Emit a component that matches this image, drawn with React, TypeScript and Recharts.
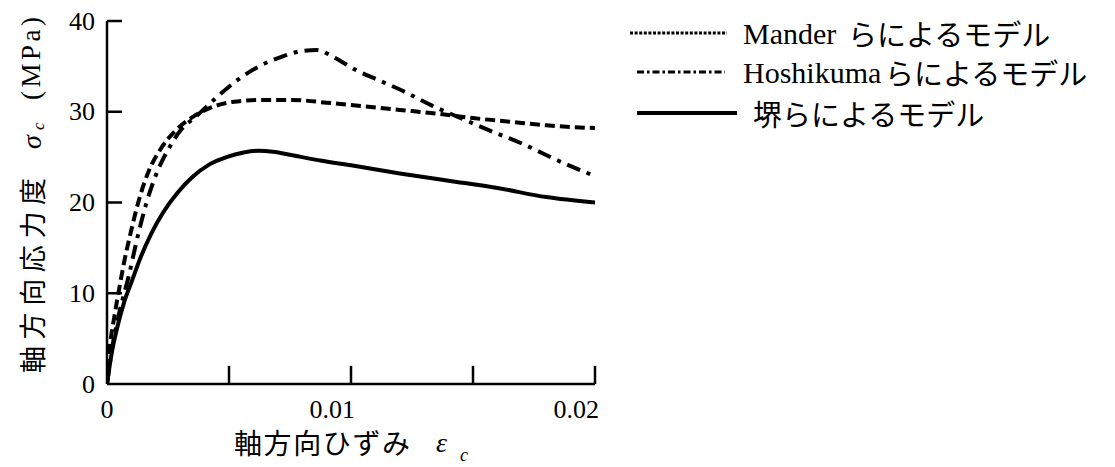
import React from 'react';
import { LineChart, Line, XAxis, YAxis, ReferenceLine, Legend, Label } from 'recharts';

// strain (x) and stress in MPa (y)
const manderStrain = [0, 0.0001, 0.0003, 0.0005, 0.0007, 0.001, 0.0013, 0.0017, 0.0022, 0.0028, 0.0035, 0.0043, 0.0052, 0.0063, 0.0076, 0.009, 0.0105, 0.012, 0.0135, 0.015, 0.0165, 0.018, 0.02];
const manderStress = [0, 3.6, 7.4, 10.5, 13.4, 17.0, 20.2, 23.4, 25.9, 27.9, 29.4, 30.5, 31.1, 31.3, 31.3, 31.0, 30.6, 30.2, 29.8, 29.3, 28.9, 28.5, 28.2];

const hoshikumaStrain = [0, 0.0002, 0.0005, 0.0009, 0.0012, 0.0016, 0.002, 0.0025, 0.003, 0.0037, 0.0045, 0.0054, 0.0063, 0.0072, 0.008, 0.0086, 0.0093, 0.0102, 0.0112, 0.0122, 0.0133, 0.0145, 0.0158, 0.017, 0.0185, 0.02];
const hoshikumaStress = [0, 3.8, 7.8, 12.0, 15.6, 19.8, 23.0, 25.8, 27.9, 29.6, 31.6, 33.6, 35.1, 36.1, 36.7, 36.8, 36.0, 34.6, 33.4, 32.2, 30.7, 29.3, 27.8, 26.5, 24.6, 22.9];

const sakaiStrain = [0, 0.0002, 0.0004, 0.0007, 0.001, 0.0014, 0.0018, 0.0023, 0.0029, 0.0035, 0.0042, 0.0049, 0.0056, 0.0062, 0.0068, 0.0076, 0.0088, 0.01, 0.012, 0.014, 0.016, 0.018, 0.02];
const sakaiStress = [0, 3.5, 6.0, 9.0, 11.2, 14.1, 16.5, 18.9, 21.1, 22.8, 24.2, 25.0, 25.5, 25.7, 25.6, 25.2, 24.6, 24.1, 23.2, 22.4, 21.6, 20.6, 20.0];

const yTicks = [0, 10, 20, 30, 40];
const xTickLabels = [0, 0.01, 0.02];
const xTickMarks = [0.005, 0.01, 0.015, 0.02];

const legendLatin = ['Mander', 'Hoshikuma', ''];
const legendJapanese = ['らによるモデル', 'らによるモデル', '堺らによるモデル'];

const toPoints = (xs: number[], ys: number[]) => xs.map((x, i) => ({ x, y: ys[i] }));

const SERIF = '"Liberation Serif", "Times New Roman", serif';
const JP = '"Noto Sans CJK JP", sans-serif';

// label sits 12px left of the axis; inward tick mark drawn from the axis
const YTick = ({ x, y, payload }: any) => (
  <g>
    {payload.value > 0 ? <line x1={x + 12} x2={x + 27} y1={y} y2={y} stroke="#000" strokeWidth={2.5} /> : null}
    <text x={x} y={y} textAnchor="end" dominantBaseline="central" fontFamily={SERIF} fontSize={26} fill="#000">
      {payload.value}
    </text>
  </g>
);

const XTick = ({ x, y, payload }: any) => {
  const first = payload.value === 0;
  return (
    <text x={first ? x : x + 4} y={y} textAnchor={first ? 'middle' : 'end'} dominantBaseline="central" fontFamily={SERIF} fontSize={26} fill="#000">
      {String(payload.value)}
    </text>
  );
};

const YTitle = ({ viewBox }: any) => {
  const cx = viewBox.x + 31;
  const by = viewBox.y + viewBox.height - 11;
  return (
    <g transform={`translate(${cx},${by}) rotate(-90)`}>
      <text x={0} y={0} dominantBaseline="central" fontFamily={JP} fontSize={27} textLength={195} lengthAdjust="spacing" fill="#000">
        軸方向応力度
      </text>
      <text x={224} y={0} dominantBaseline="central" fontFamily={SERIF} fontStyle="italic" fontSize={28} fill="#000">σ</text>
      <text x={243} y={7} dominantBaseline="central" fontFamily={SERIF} fontStyle="italic" fontSize={17} fill="#000">c</text>
      <text x={273} y={0} dominantBaseline="central" fontFamily={SERIF} fontSize={27} textLength={83} lengthAdjust="spacing" fill="#000">
        (MPa)
      </text>
    </g>
  );
};

const XTitle = ({ viewBox }: any) => {
  const left = viewBox.x + 127;
  const cy = viewBox.y + 58;
  return (
    <g>
      <text x={left} y={cy} dominantBaseline="central" fontFamily={JP} fontSize={28} textLength={176} lengthAdjust="spacing" fill="#000">
        軸方向ひずみ
      </text>
      <text x={left + 202} y={cy} dominantBaseline="central" fontFamily={SERIF} fontStyle="italic" fontSize={28} fill="#000">ε</text>
      <text x={left + 226} y={cy + 13} dominantBaseline="central" fontFamily={SERIF} fontStyle="italic" fontSize={18} fill="#000">c</text>
    </g>
  );
};

const legendRows = [
  { y: 33, x1: 30, x2: 127, dash: '3 1.6', width: 3, latinX: 143, jpX: 248 },
  { y: 72, x1: 37, x2: 125, dash: '7 3 2.5 3', width: 3, latinX: 143, jpX: 285 },
  { y: 113, x1: 37, x2: 137, dash: undefined, width: 4, latinX: 143, jpX: 153 },
];

const LegendContent = () => (
  <svg width={515} height={140}>
    {legendRows.map((r, i) => (
      <g key={i}>
        <line x1={r.x1} x2={r.x2} y1={r.y} y2={r.y} stroke="#000" strokeWidth={r.width} strokeDasharray={r.dash} />
        {legendLatin[i] ? (
          <text x={r.latinX} y={r.y} dominantBaseline="central" fontFamily={SERIF} fontSize={30} fill="#000">
            {legendLatin[i]}
          </text>
        ) : null}
        <text x={r.jpX} y={r.y} dominantBaseline="central" fontFamily={JP} fontSize={29} fill="#000">
          {legendJapanese[i]}
        </text>
      </g>
    ))}
  </svg>
);

export default function App() {
  return (
    <div style={{ position: 'absolute', left: 0, top: 0, width: 1115, height: 467, background: '#fff' }}>
      <LineChart width={1115} height={467} margin={{ top: 21, right: 520, bottom: 0, left: 0 }}>
        <XAxis
          type="number"
          dataKey="x"
          domain={[0, 0.02]}
          ticks={xTickLabels}
          allowDataOverflow
          height={83}
          tickSize={0}
          tickMargin={25}
          tickLine={false}
          tick={<XTick />}
          axisLine={{ stroke: '#000', strokeWidth: 2.5 }}
        >
          <Label content={<XTitle />} />
        </XAxis>
        <YAxis
          type="number"
          dataKey="y"
          domain={[0, 40]}
          ticks={yTicks}
          allowDataOverflow
          width={107}
          tickSize={0}
          tickMargin={12}
          tickLine={false}
          tick={<YTick />}
          axisLine={{ stroke: '#000', strokeWidth: 2.5 }}
        >
          <Label content={<YTitle />} />
        </YAxis>
        {xTickMarks.map((v) => (
          <ReferenceLine key={'x' + v} segment={[{ x: v, y: 0 }, { x: v, y: 2 }]} stroke="#000" strokeWidth={2.5} ifOverflow="visible" />
        ))}
        <Line data={toPoints(manderStrain, manderStress)} dataKey="y" name="Mander" type="monotone" stroke="#000" strokeWidth={4} strokeDasharray="10 5" dot={false} isAnimationActive={false} />
        <Line data={toPoints(hoshikumaStrain, hoshikumaStress)} dataKey="y" name="Hoshikuma" type="monotone" stroke="#000" strokeWidth={4} strokeDasharray="14 7 4 7" dot={false} isAnimationActive={false} />
        <Line data={toPoints(sakaiStrain, sakaiStress)} dataKey="y" name="Sakai" type="monotone" stroke="#000" strokeWidth={4} dot={false} isAnimationActive={false} />
        <Legend layout="vertical" align="center" verticalAlign="middle" wrapperStyle={{ left: 600, top: 0, width: 515 }} content={<LegendContent />} />
      </LineChart>
    </div>
  );
}
